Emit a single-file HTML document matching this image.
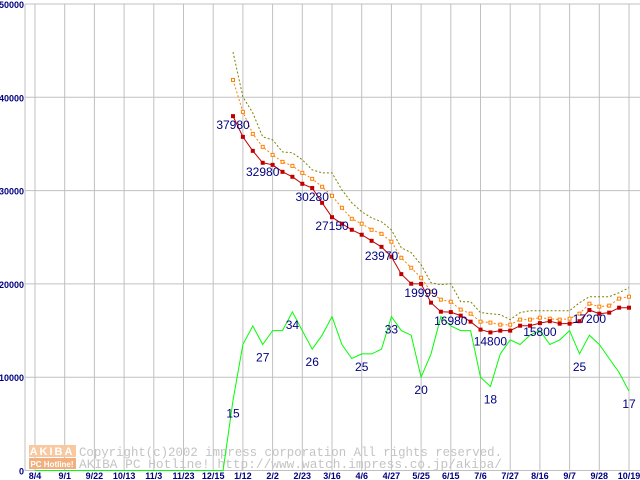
<!DOCTYPE html>
<html><head><meta charset="utf-8"><style>
body{margin:0;background:#fff;}
svg{display:block;font-family:"Liberation Sans",sans-serif;}
</style></head><body>
<svg id="chart" width="640" height="480" viewBox="0 0 640 480" xmlns="http://www.w3.org/2000/svg">
<g id="grid"></g>
<g id="wm">
 <rect x="29" y="445" width="47" height="12" fill="#f8c8a0"/>
 <rect x="29" y="458" width="47" height="11" fill="#f0b080"/>
 <text x="52" y="455" font-size="11" font-weight="bold" fill="#fff" text-anchor="middle" letter-spacing="2">AKIBA</text>
 <text x="52" y="467" font-size="8" font-weight="bold" fill="#fff" text-anchor="middle">PC Hotline!</text>
 <text x="79" y="456" font-family="Liberation Mono, monospace" font-size="12.5" fill="#c4c4c4" textLength="423" lengthAdjust="spacingAndGlyphs">Copyright(c)2002 impress corporation All rights reserved.</text>
 <text x="79" y="468" font-family="Liberation Mono, monospace" font-size="12.5" fill="#c4c4c4" textLength="423" lengthAdjust="spacingAndGlyphs">AKIBA PC Hotline!  http://www.watch.impress.co.jp/akiba/</text>
</g>
<g id="series"></g>
<g id="labels"></g>
</svg>
<script>
const xLabels=["8/4","9/1","9/22","10/13","11/3","11/23","12/15","1/12","2/2","2/23","3/16","4/6","4/27","5/25","6/15","7/6","7/27","8/16","9/7","9/28","10/19"];
const yTicks=[0,10000,20000,30000,40000,50000];
const startWeek=20;
const minPrice=[37980,35760,34260,32980,32760,32010,31480,30730,30280,28690,27150,26450,25800,25270,24620,23970,22910,21050,20020,19999,17990,17020,16980,16600,15950,15100,14800,14990,14990,15520,15520,15800,16000,15740,15740,16000,17200,16810,16920,17450,17450];
const avgPrice=[41860,38440,36080,34690,33830,33080,32650,31900,31260,30410,29440,28160,26980,26450,25800,25370,24520,22800,21730,20660,19160,18310,18090,17240,16810,15950,15850,15630,15630,16170,16170,16380,16270,16170,16270,16810,17880,17560,17670,18420,18630];
const maxPrice=[44860,40040,38330,35760,35440,34150,34050,33300,32230,31900,31900,30090,28690,27730,27090,26660,25800,23880,23340,22060,20130,19910,20020,18090,18090,16920,16810,16700,16170,16920,17130,17130,17130,17130,17130,17990,18630,18630,18630,19060,19590];
const shopCount=[15,27,31,27,30,30,34,30,26,29,33,27,24,25,25,26,33,30,29,20,25,33,31,30,30,20,18,25,28,27,29,30,27,28,30,25,29,27,24,21,17];
const minLabelIdx=[0,3,8,10,15,19,22,26,31,36];
const countLabelIdx=[0,3,6,8,13,16,19,26,35,40];

const NS="http://www.w3.org/2000/svg";
const X0=35,WK=29.7/3,Y0=470.5,YS=93.3/10000;
const xw=w=>X0+w*WK;
const y=v=>Y0-v*YS;
const yc=c=>y(c*500);
function mk(tag,attrs,parent){const e=document.createElementNS(NS,tag);for(const k in attrs)e.setAttribute(k,attrs[k]);parent.appendChild(e);return e;}
const grid=document.getElementById('grid'),ser=document.getElementById('series'),lab=document.getElementById('labels');
yTicks.forEach(v=>{
 const l=mk('line',{x1:25,x2:640,y1:y(v),y2:y(v),stroke:'#c0c0c0','stroke-width':1},grid);
 
 
 const t=mk('text',{x:24,y:y(v)+4,'text-anchor':'end','font-size':9,'font-weight':'bold',fill:'#000080'},grid);
 t.textContent=v;
 
 
});
const ax=mk('line',{x1:25,x2:25,y1:4,y2:471,stroke:'#c0c0c0'},grid);


xLabels.forEach((s,i)=>{
 const x=xw(i*3);
 const l=mk('line',{x1:x,x2:x,y1:4,y2:471,stroke:'#c0c0c0'},grid);
 
 
 const t=mk('text',{x:x,y:479,'text-anchor':'middle','font-size':9,'font-weight':'bold',fill:'#000080'},grid);
 t.textContent=s;
 
 
});
function pts(arr,f){return arr.map((v,i)=>xw(startWeek+i).toFixed(1)+','+f(v).toFixed(1)).join(' ');}
let gp=xw(0)+','+yc(0)+' '+xw(startWeek-1)+','+yc(0)+' '+pts(shopCount,yc);
const g=mk('polyline',{points:gp,fill:'none',stroke:'#00ff00','stroke-width':1},ser);


const mx=mk('polyline',{points:pts(maxPrice,y),fill:'none',stroke:'#808000','stroke-width':1,'stroke-dasharray':'2,2'},ser);


const av=mk('polyline',{points:pts(avgPrice,y),fill:'none',stroke:'#ff8000','stroke-width':1,'stroke-dasharray':'2,2'},ser);


avgPrice.forEach((v,i)=>{
 const r=mk('rect',{x:xw(startWeek+i)-1.5,y:y(v)-1.5,width:3,height:3,fill:'#fff',stroke:'#ff8000','stroke-width':1},ser);
 
 
});
const mn=mk('polyline',{points:pts(minPrice,y),fill:'none',stroke:'#c00000','stroke-width':1},ser);


minPrice.forEach((v,i)=>{
 const r=mk('rect',{x:xw(startWeek+i)-2,y:y(v)-2,width:4,height:4,fill:'#c00000'},ser);
 
 
});
minLabelIdx.forEach(i=>{
 const t=mk('text',{x:xw(startWeek+i),y:y(minPrice[i])+13,'text-anchor':'middle','font-size':12,fill:'#000080'},lab);
 t.textContent=minPrice[i];
 
 
});
countLabelIdx.forEach(i=>{
 const t=mk('text',{x:xw(startWeek+i),y:yc(shopCount[i])+17,'text-anchor':'middle','font-size':12,fill:'#000080'},lab);
 t.textContent=shopCount[i];
 
 
});
</script>
</body></html>
